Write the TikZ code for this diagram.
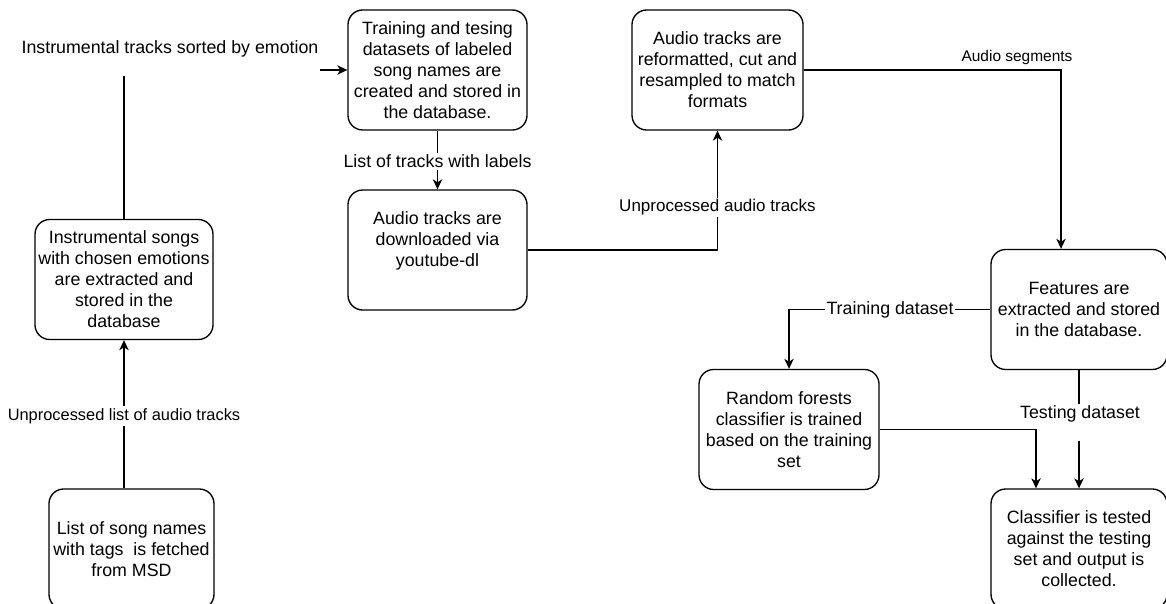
\documentclass[tikz,border=0pt]{standalone}
\usepackage{fontspec}
\setmainfont{Liberation Sans}
\usetikzlibrary{arrows.meta}
\newcommand{\fsz}[1]{\fontsize{#1}{15.75pt}\selectfont}
\tikzset{
  box/.style={draw, rounded corners=11pt, line width=1pt, align=center, inner sep=0pt,
    minimum height=90pt, font=\fsz{13.35pt}},
  conn/.style={line width=1pt, -{Stealth[length=7.5pt,width=7pt,inset=2.2pt]}},
  lbl/.style={fill=white, inner xsep=1pt, inner ysep=1.5pt, align=center, font=\fsz{13.35pt}},
}
\begin{document}
\begin{tikzpicture}[x=0.75pt,y=-0.75pt]
\useasboundingbox (0,0) rectangle (1166,603);
\clip (0,0) rectangle (1166,603);
% boxes
\node[box, minimum width=123.75pt] (A) at (131.5,549) {List of song names\\with tags\ \ is fetched\\from MSD};
\node[box, minimum width=133.5pt] (B) at (124,279.5) {Instrumental songs\\with chosen emotions\\are extracted and\\stored in the\\database};
\node[box, minimum width=134.25pt] (C) at (437.5,70) {Training and tesing\\datasets of labeled\\song names are\\created and stored in\\the database.};
\node[box, minimum width=134.25pt] (D) at (437.5,250) {Audio tracks are\\downloaded via\\youtube-dl\\\mbox{}};
\node[box, minimum width=128.25pt] (E) at (717.5,70) {Audio tracks are\\reformatted, cut and\\resampled to match\\formats};
\node[box, minimum width=132pt] (F) at (1079,309.5) {Features are\\extracted and stored\\in the database.};
\node[box, minimum width=135pt] (G) at (789,429.5) {Random forests\\classifier is trained\\based on the training\\set};
\node[box, minimum width=132pt] (H) at (1079,549) {Classifier is tested\\against the testing\\set and output is\\collected.};
% connectors
\draw[conn] (B.south |- A.north) -- (B.south);
\node[lbl, font=\fsz{12.3pt}] (l1) at (124,416) {Unprocessed list of audio tracks};

\draw[conn] (B.north) |- (C.west);
\node[lbl, inner sep=1.5pt] (l2) at (170,57.5) {Instrumental tracks sorted by emotion\\\mbox{}};

\draw[conn] (C.south) -- (D.north);
\node[lbl] (l3) at (437.5,161.5) {List of tracks with labels};

\draw[conn] (D.east) -| (E.south);
\node[lbl, font=\fsz{12.75pt}] (l4) at (717.5,207.5) {Unprocessed audio tracks};

\draw[conn] (E.east) -| ([xshift=-13.5pt]F.north);
\node[font=\fsz{11.6pt}] (l5) at (1017,57) {Audio segments};

\draw[conn] (F.west) -| (G.north);
\node[lbl] (l6) at (890,309.5) {Training dataset};

\draw[conn] (F.south) -- (H.north);
\node[lbl] (l7) at (1080,422.5) {Testing dataset\\\mbox{}};
\draw[conn] (G.east) -| ([xshift=-32.25pt]H.north);
\end{tikzpicture}
\end{document}
